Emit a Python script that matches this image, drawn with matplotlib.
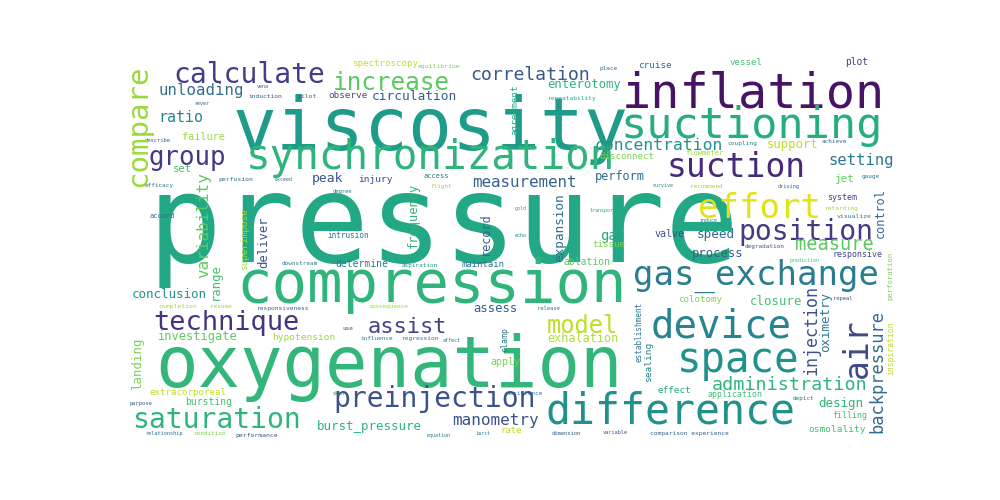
import matplotlib
matplotlib.use("Agg")
import matplotlib.pyplot as plt

# horizontal words: word, weight, left x, baseline y, colour shade
h_words = ["pressure", "viscosity", "inflation", "suctioning", "synchronization",
           "compression", "oxygenation", "difference", "device", "space",
           "gas_exchange", "position", "effort", "suction", "measure",
           "calculate", "group", "ratio", "unloading", "failure",
           "increase", "correlation", "spectroscopy", "equilibrium", "observe",
           "circulation", "peak", "injury", "access", "flight",
           "measurement", "perform", "concentration", "disconnect", "enterotomy",
           "repeatability", "place", "cruise", "vessel", "plot",
           "support", "coupling", "achieve", "setting", "jet",
           "gauge", "driving", "system", "retarding", "visualize",
           "speed", "process", "degradation", "prediction", "responsive",
           "closure", "repeal", "administration", "application", "depict",
           "design", "filling", "osmolality", "comparison experience", "model",
           "exhalation", "effect", "assistance", "dimension", "variable",
           "rate", "assist", "apply", "use", "influence",
           "regression", "affect", "hypotension", "preinjection", "skin",
           "burst_pressure", "manometry", "equation", "burst", "technique",
           "investigate", "extracorporeal", "bursting", "purpose", "saturation",
           "relationship", "condition", "performance", "efficacy", "describe",
           "sever", "induction", "pilot", "vena", "set",
           "perfusion", "exceed", "accord", "conclusion", "completion",
           "resume", "responsiveness", "downstream", "degree", "intrusion",
           "determine", "aspiration", "maintain", "consequence", "assess",
           "gold", "echo", "transport", "gas", "tissue",
           "valve", "ablation", "induce", "colotomy", "release",
           "flowmeter", "recommend", "survive"]
h_weight = [123, 73, 48.5, 43.5, 41,
            59, 70.6, 41.5, 39, 40.7,
            34, 28, 34, 33, 18.6,
            28, 25.7, 15, 15.7, 10.2,
            24.4, 18.2, 9.2, 6.4, 9.3,
            12.9, 13, 9.5, 7, 6,
            15.9, 11.9, 16.4, 9.2, 12.2,
            6.3, 6, 9.4, 9.2, 9.6,
            12.2, 6.2, 6, 15.5, 11,
            6, 5.3, 8.3, 6.1, 6.5,
            12.7, 12.2, 6, 5, 8.3,
            12.4, 5.5, 18.4, 8.3, 6,
            12.5, 8.3, 9.5, 6.3, 23.7,
            11.8, 9.4, 6, 5.5, 5.3,
            9, 22, 10, 6, 6,
            6.3, 5, 9.5, 28, 5,
            12.5, 16, 5, 4.5, 27,
            12, 9.2, 9.8, 5.5, 28,
            5.3, 6, 6.5, 6, 5.5,
            5, 6.3, 6.5, 5, 10.5,
            6.5, 5, 7, 12.5, 6.5,
            6, 6.3, 6, 5.5, 7.6,
            9.8, 6, 9, 6, 12.2,
            5, 5, 5, 13.9, 9.2,
            10, 9.8, 5, 9.2, 5.5,
            7, 6, 5]
h_x = [148, 232, 622, 620, 246,
       236, 155, 546, 651, 677,
       633, 738, 698, 667, 795,
       173, 148, 158, 158, 182,
       333, 470, 352, 418, 328,
       372, 312, 358, 423, 430,
       472, 595, 595, 600, 547,
       548, 600, 638, 730, 845,
       767, 727, 822, 828, 835,
       862, 778, 827, 825, 837,
       697, 692, 745, 790, 832,
       750, 833, 712, 707, 793,
       818, 832, 808, 650, 547,
       547, 658, 507, 552, 603,
       500, 368, 490, 342, 360,
       402, 443, 272, 333, 333,
       317, 452, 427, 477, 153,
       157, 150, 185, 130, 132,
       145, 193, 235, 145, 145,
       195, 248, 297, 257, 173,
       218, 275, 150, 132, 158,
       210, 257, 282, 333, 327,
       335, 402, 462, 368, 473,
       515, 515, 590, 600, 592,
       655, 563, 700, 678, 537,
       685, 690, 653]
h_y = [262, 150, 107, 138, 169,
       302, 387, 423, 337, 372,
       285, 240, 218, 177, 250,
       83, 165, 122, 95, 140,
       90, 80, 66, 68, 98,
       100, 182, 182, 178, 188,
       187, 180, 150, 159, 88,
       100, 70, 68, 65, 65,
       148, 145, 143, 165, 182,
       178, 188, 200, 210, 218,
       238, 257, 248, 262, 257,
       305, 300, 390, 397, 400,
       407, 418, 432, 435, 333,
       342, 393, 395, 435, 434,
       433, 333, 365, 330, 340,
       340, 342, 340, 407, 395,
       430, 425, 437, 435, 330,
       340, 395, 405, 405, 428,
       435, 435, 437, 187, 142,
       105, 98, 98, 88, 172,
       181, 181, 218, 298, 308,
       308, 310, 265, 193, 238,
       267, 267, 267, 308, 312,
       210, 237, 212, 240, 247,
       237, 265, 222, 302, 310,
       155, 188, 187]
h_shade = [0.6, 0.55, 0.05, 0.62, 0.65,
           0.65, 0.66, 0.5, 0.45, 0.5,
           0.42, 0.17, 0.95, 0.12, 0.75,
           0.18, 0.17, 0.45, 0.35, 0.85,
           0.75, 0.27, 0.9, 0.8, 0.22,
           0.3, 0.25, 0.22, 0.4, 0.85,
           0.3, 0.35, 0.5, 0.8, 0.65,
           0.6, 0.35, 0.35, 0.7, 0.2,
           0.9, 0.4, 0.3, 0.4, 0.75,
           0.4, 0.3, 0.2, 0.85, 0.4,
           0.35, 0.3, 0.25, 0.7, 0.2,
           0.7, 0.3, 0.65, 0.7, 0.35,
           0.65, 0.7, 0.7, 0.3, 0.9,
           0.88, 0.6, 0.4, 0.3, 0.25,
           0.9, 0.2, 0.8, 0.25, 0.4,
           0.4, 0.4, 0.85, 0.25, 0.45,
           0.65, 0.25, 0.4, 0.4, 0.15,
           0.75, 0.9, 0.7, 0.25, 0.65,
           0.35, 0.8, 0.25, 0.35, 0.3,
           0.3, 0.25, 0.35, 0.3, 0.7,
           0.35, 0.35, 0.35, 0.5, 0.85,
           0.85, 0.3, 0.4, 0.4, 0.4,
           0.4, 0.5, 0.4, 0.85, 0.3,
           0.6, 0.4, 0.6, 0.6, 0.8,
           0.25, 0.75, 0.4, 0.8, 0.4,
           0.85, 0.85, 0.45]

# vertical words (read bottom to top): baseline x, start y
v_words = ["compare", "variability", "range", "superimpose", "deliver",
           "landing", "frequency", "record", "expansion", "control",
           "injection", "oximetry", "backpressure", "air", "inspiration",
           "perforation", "establishment", "sealing", "clamp", "agreement"]
v_weight = [29, 16, 12.3, 9.4, 12.2,
            12.4, 12, 11.7, 12.7, 11.9,
            16.6, 12.5, 17, 33, 8,
            7.3, 7.6, 9.5, 8.3, 9.3]
v_x = [146, 208, 219, 247, 267,
       141, 417, 489, 563, 884,
       817, 829, 882, 867, 893,
       892, 641, 651, 507, 517]
v_y = [187, 278, 300, 270, 268,
       390, 248, 255, 262, 238,
       375, 352, 433, 378, 375,
       300, 362, 382, 352, 135]
v_shade = [0.85, 0.75, 0.7, 0.85, 0.25,
           0.8, 0.65, 0.3, 0.35, 0.35,
           0.25, 0.4, 0.35, 0.22, 0.9,
           0.8, 0.4, 0.45, 0.4, 0.6]

cmap = plt.cm.viridis
font = "DejaVu Sans Mono"
pt_per_unit = 0.72  # one weight unit = one pixel of em height at 100 dpi

fig = plt.figure(figsize=(10, 5), dpi=100)
ax = fig.add_axes([0.1275, 0.12, 0.77, 0.77])
ax.set_xlim(127.5, 897.5)
ax.set_ylim(440, 55)
ax.axis("off")

for w, s, x, y, c in zip(h_words, h_weight, h_x, h_y, h_shade):
    ax.text(x, y, w, fontsize=s * pt_per_unit, family=font, color=cmap(c),
            ha="left", va="baseline")

for w, s, x, y, c in zip(v_words, v_weight, v_x, v_y, v_shade):
    ax.text(x, y, w, fontsize=s * pt_per_unit, family=font, color=cmap(c),
            ha="left", va="baseline", rotation=90, rotation_mode="anchor")

fig.savefig("out.png", dpi=100)
